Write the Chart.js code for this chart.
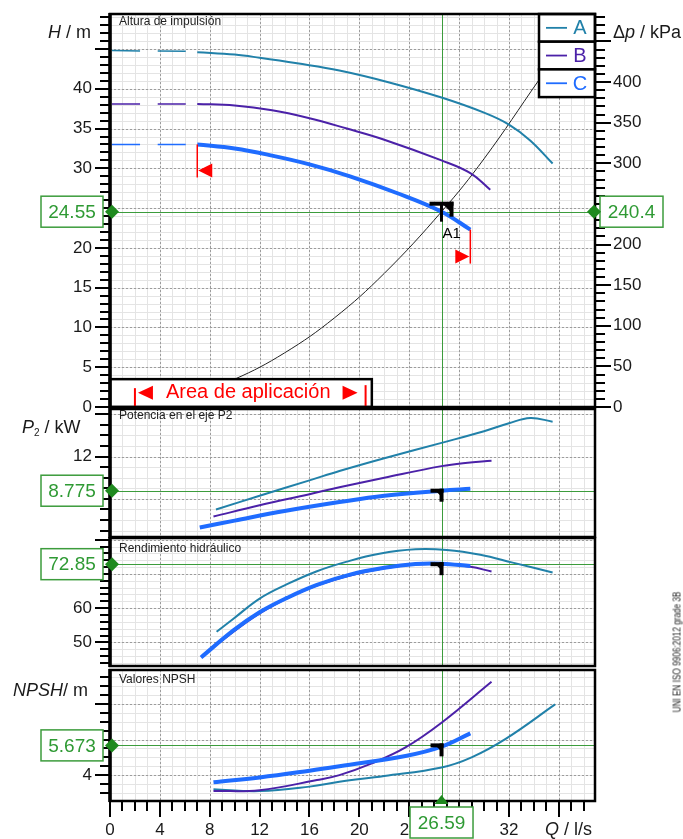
<!DOCTYPE html>
<html>
<head>
<meta charset="utf-8">
<script src="https://cdn.jsdelivr.net/npm/chart.js@4.4.1/dist/chart.umd.min.js"></script>
<style>
  body { margin: 0; background: #fff; }
  #lienzo { position: relative; width: 683px; height: 839px; overflow: hidden; }
  canvas { position: absolute; left: 0; }
  #norma {
    position: absolute; left: 677px; top: 652px; white-space: nowrap;
    font: 10px "Liberation Sans", Arial, sans-serif; color: #222;
    transform: translate(-50%, -50%) rotate(-90deg) scaleX(0.82);
  }
</style>
</head>
<body>
<div id="lienzo">
  <canvas id="graficoH" width="683" height="420" style="top:0px"></canvas>
  <canvas id="graficoP2" width="683" height="148" style="top:400px"></canvas>
  <canvas id="graficoRend" width="683" height="150" style="top:528px"></canvas>
  <canvas id="graficoNpsh" width="683" height="179" style="top:660px"></canvas>
  <div id="norma">UNI EN ISO 9906:2012 grade 3B</div>
</div>
<script>
const FUENTE = "'Liberation Sans', Arial, sans-serif"
const VERDE = "#3c9c3c"
const TEXTO_VERDE = "#2f9a34"
const ROJO = "#ff0000"
const COLOR_A = "#2181a9"
const COLOR_B = "#4b21a8"
const COLOR_C = "#1f6cff"

const Q_MAX = 38.9

// ---- valores (Q en l/s) ----
const curvas = ["A", "B", "C"]

// Altura de impulsion H / m
const qDiscontinua = [0.15, 6.3]
const hDiscA = [44.8, 44.7]
const hDiscB = [38.1, 38.1]
const hDiscC = [33.0, 33.0]
const qH_A = [7, 10, 12, 15, 18.4, 22.4, 26.59, 30, 32, 33.7, 35.5]
const hA = [44.6, 44.3, 43.9, 43.2, 42.3, 40.8, 38.9, 37.0, 35.5, 33.5, 30.6]
const qH_B = [7, 10, 13, 16, 19, 22, 26.59, 28.9, 30.5]
const hB = [38.1, 37.9, 37.3, 36.3, 35.0, 33.6, 31.0, 29.4, 27.3]
const qH_C = [7, 10, 13, 16, 19.25, 23, 26.59, 28.9]
const hC = [33.0, 32.5, 31.6, 30.5, 29.0, 26.9, 24.55, 22.3]
const qSistema = [0, 6, 10, 14, 18, 22, 26.59, 30, 34.4]
const hSistema = [0, 1.25, 3.5, 6.8, 11.2, 16.8, 24.55, 31.2, 41.1]
const areaAplicacion = [2.0, 20.5]

// Potencia en el eje P2 / kW
const qP_A = [8.5, 12, 16, 18.4, 22, 26.59, 30, 32, 33.7, 35.5]
const pA = [7.0, 8.3, 9.75, 10.64, 11.85, 13.3, 14.4, 15.15, 15.65, 15.3]
const qP_B = [8.3, 12, 16, 18.4, 22, 26.59, 28.5, 30.6]
const pB = [6.33, 7.4, 8.45, 9.1, 10.0, 11.1, 11.4, 11.6]
const qP_C = [7.2, 10, 14, 18.4, 22, 26.59, 28.9]
const pC = [5.3, 5.95, 6.85, 7.7, 8.3, 8.78, 8.95]

// Rendimiento hidraulico / %
const qR_A = [8.55, 9.9, 12, 14.2, 16.6, 19, 21.6, 24.5, 27, 29.7, 32.3, 35.5]
const rA = [53.1, 56.9, 62.8, 67.0, 70.8, 73.6, 75.9, 77.2, 77.0, 75.6, 73.3, 70.4]
const qR_B = [8.3, 12, 16, 20, 24, 26.59, 28.9, 30.6]
const rB = [48.6, 58.5, 65.8, 70.2, 72.6, 72.8, 72.1, 70.7]
const qR_C = [7.3, 9.9, 12, 14.2, 16.6, 19.25, 22, 24.5, 26.59, 28.9]
const rC = [45.6, 53.5, 58.8, 63.0, 66.8, 69.8, 71.8, 72.9, 73.0, 72.3]

// Valores NPSH / m
const qN_A = [8.3, 12, 16, 18.4, 22, 26.59, 29, 31.8, 35.7]
const nA = [3.2, 3.1, 3.35, 3.62, 3.95, 4.43, 5.0, 6.07, 7.98]
const qN_B = [8.3, 12, 16.6, 18.4, 21, 23.7, 26.59, 30.6]
const nB = [3.1, 3.15, 3.72, 4.0, 4.66, 5.56, 6.95, 9.26]
const qN_C = [8.3, 12, 16, 18.4, 23.8, 26.59, 28.9]
const nC = [3.59, 3.87, 4.25, 4.5, 5.09, 5.6, 6.35]

// Punto de trabajo
const qTrabajo = 26.59
const hTrabajo = 24.55
const dpTrabajo = 240.4
const p2Trabajo = 8.775
const rendTrabajo = 72.85
const npshTrabajo = 5.673

// Etiquetas de los ejes
const etiquetasQ = [0, 4, 8, 12, 16, 20, 24, 28, 32]
const etiquetasH = [0, 5, 10, 15, 20, 25, 30, 35, 40]
const etiquetasDp = [0, 50, 100, 150, 200, 250, 300, 350, 400]
const etiquetasP2 = [8, 12]
const etiquetasRend = [50, 60, 70]
const etiquetasNpsh = [4, 6]

// ---- utilidades de dibujo ----
function linea(ctx, x1, y1, x2, y2) {
    ctx.beginPath(); ctx.moveTo(x1, y1); ctx.lineTo(x2, y2); ctx.stroke()
}
function vLinea(ctx, x, y1, y2) { x = Math.round(x) + 0.5; linea(ctx, x, y1, x, y2) }
function hLinea(ctx, y, x1, x2) { y = Math.round(y) + 0.5; linea(ctx, x1, y, x2, y) }
function triangulo(ctx, p) {
    ctx.beginPath(); ctx.moveTo(p[0], p[1]); ctx.lineTo(p[2], p[3]); ctx.lineTo(p[4], p[5]); ctx.closePath(); ctx.fill()
}
function valoresEntre(min, max, paso) {
    const r = []
    for (let i = Math.ceil(min / paso - 1e-9); i * paso <= max + 1e-9; i++) r.push(+(i * paso).toFixed(4))
    return r
}
function esMultiplo(v, paso) { return Math.abs(v / paso - Math.round(v / paso)) < 1e-6 }

function serie(q, v, color, ancho, discontinua) {
    return {
        data: q.map((x, i) => ({ x: x, y: v[i] })),
        borderColor: color,
        borderWidth: ancho,
        borderDash: discontinua ? [28, 18] : [],
        borderCapStyle: "butt",
        borderJoinStyle: "round",
        pointRadius: 0,
        fill: false,
        tension: 0.4
    }
}

function cajaValor(ctx, x, yc, w, texto) {
    ctx.fillStyle = "#fff"; ctx.fillRect(x, yc - 15.5, w, 31)
    ctx.strokeStyle = VERDE; ctx.lineWidth = 1.5; ctx.strokeRect(x, yc - 15.5, w, 31)
    ctx.fillStyle = TEXTO_VERDE; ctx.font = "19px " + FUENTE
    ctx.textAlign = "center"; ctx.textBaseline = "middle"
    ctx.fillText(texto, x + w / 2, yc + 1)
}
function diamante(ctx, x, y) {
    ctx.fillStyle = "#1f8a1f"
    ctx.beginPath(); ctx.moveTo(x - 7, y); ctx.lineTo(x, y - 7); ctx.lineTo(x + 7, y); ctx.lineTo(x, y + 7); ctx.closePath(); ctx.fill()
}
function textoPartes(ctx, x, y, partes) {
    ctx.textAlign = "left"; ctx.textBaseline = "middle"; ctx.fillStyle = "#1a1a1a"
    partes.forEach(p => {
        ctx.font = (p.italica ? "italic " : "") + (p.tam || 18) + "px " + FUENTE
        ctx.fillText(p.t, x, y + (p.dy || 0))
        x += ctx.measureText(p.t).width
    })
}

function marcaTrabajo(ctx, x, y, conEtiqueta) {
    ctx.save()
    ctx.strokeStyle = "#000"; ctx.fillStyle = "#000"; ctx.lineCap = "butt"
    if (conEtiqueta) {
        ctx.lineWidth = 4
        linea(ctx, x - 12, y - 8, x + 12, y - 8)
        linea(ctx, x + 10, y - 10, x + 10, y + 5)
        ctx.lineWidth = 3
        linea(ctx, x, y - 8, x, y + 10)
        triangulo(ctx, [x + 1, y - 8, x + 10, y - 8, x + 10, y + 1])
        ctx.font = "15px " + FUENTE; ctx.textAlign = "left"; ctx.textBaseline = "alphabetic"
        ctx.fillText("A1", x + 1, y + 26)
    } else {
        ctx.lineWidth = 4
        linea(ctx, x - 11, y, x + 2, y)
        linea(ctx, x, y - 2, x, y + 11)
        triangulo(ctx, [x - 6, y, x, y, x, y + 6])
    }
    ctx.restore()
}

// ---- capas del panel ----
function fondo(chart, cfg) {
    const ctx = chart.ctx, a = chart.chartArea, sx = chart.scales.x, sy = chart.scales.y
    ctx.save()
    ctx.beginPath(); ctx.rect(a.left, a.top, a.width, a.height); ctx.clip()
    ctx.lineWidth = 1
    ctx.strokeStyle = "#e4e4e4"
    for (let q = 1; q < Q_MAX; q++) vLinea(ctx, sx.getPixelForValue(q), a.top, a.bottom)
    valoresEntre(sy.min, sy.max, cfg.paso).forEach(v => hLinea(ctx, sy.getPixelForValue(v), a.left, a.right))
    ctx.strokeStyle = "#9c9c9c"; ctx.setLineDash([2, 2])
    for (let q = 4; q < Q_MAX; q += 4) vLinea(ctx, sx.getPixelForValue(q), a.top, a.bottom)
    valoresEntre(sy.min, sy.max, cfg.pasoMayor).forEach(v => hLinea(ctx, sy.getPixelForValue(v), a.left, a.right))
    ctx.setLineDash([])
    ctx.strokeStyle = VERDE
    vLinea(ctx, sx.getPixelForValue(qTrabajo), a.top, a.bottom)
    hLinea(ctx, sy.getPixelForValue(cfg.valor), a.left, a.right)
    ctx.restore()
}

function frente(chart, cfg) {
    const ctx = chart.ctx, a = chart.chartArea, sx = chart.scales.x, sy = chart.scales.y
    const px = sx.getPixelForValue(qTrabajo), py = sy.getPixelForValue(cfg.valor)
    ctx.save()
    marcaTrabajo(ctx, px, py, cfg.conEtiqueta)
    if (cfg.debajo) cfg.debajo(chart, ctx)

    // borde del panel
    ctx.strokeStyle = "#000"; ctx.lineWidth = 2.5
    ctx.strokeRect(a.left, a.top, a.width, a.height)
    ctx.lineWidth = 3.5
    linea(ctx, a.left, a.top - 1, a.left, a.bottom + 1)

    // marcas del eje izquierdo
    ctx.lineWidth = 2
    valoresEntre(sy.min, sy.max, cfg.paso).forEach(v => {
        const y = Math.round(sy.getPixelForValue(v))
        const largo = esMultiplo(v, cfg.pasoMayor) ? 15 : 10
        linea(ctx, a.left - largo, y, a.left, y)
    })
    ctx.font = "17px " + FUENTE; ctx.fillStyle = "#1a1a1a"
    ctx.textAlign = "right"; ctx.textBaseline = "middle"
    cfg.etiquetas.forEach(v => ctx.fillText(String(v), a.left - 18, sy.getPixelForValue(v)))

    // titulo del panel
    ctx.font = "12px " + FUENTE; ctx.fillStyle = "#222"
    ctx.textAlign = "left"; ctx.textBaseline = "alphabetic"
    ctx.fillText(cfg.titulo, a.left + 9, a.top + cfg.tituloDy)

    textoPartes(ctx, cfg.etiquetaX, a.top + cfg.etiquetaDy, cfg.etiquetaEje)

    if (cfg.encima) cfg.encima(chart, ctx)

    cajaValor(ctx, 41, py, 62, cfg.texto)
    diamante(ctx, a.left + 2, py)
    ctx.restore()
}

function crearPanel(id, cfg) {
    const escalas = {
        x: { type: "linear", min: 0, max: Q_MAX, display: false },
        y: { type: "linear", min: cfg.yMin, max: cfg.yMax, display: false }
    }
    if (cfg.y2) escalas.y2 = { type: "linear", position: "right", min: cfg.y2[0], max: cfg.y2[1], display: false }
    return new Chart(document.getElementById(id), {
        type: "line",
        data: { datasets: cfg.series },
        options: {
            responsive: false,
            animation: false,
            events: [],
            layout: { padding: cfg.padding },
            plugins: { legend: { display: false }, tooltip: { enabled: false } },
            scales: escalas
        },
        plugins: [{
            id: "panel",
            beforeDatasetsDraw: c => fondo(c, cfg),
            afterDatasetsDraw: c => frente(c, cfg)
        }]
    })
}

// ---- panel H ----
crearPanel("graficoH", {
    yMin: 0, yMax: 49.4, y2: [0, 49.4 * dpTrabajo / hTrabajo],
    paso: 1, pasoMayor: 5,
    padding: { left: 110, right: 88, top: 14, bottom: 13 },
    valor: hTrabajo, texto: String(hTrabajo), conEtiqueta: true,
    etiquetas: etiquetasH,
    titulo: "Altura de impulsión", tituloDy: 11,
    etiquetaX: 48, etiquetaDy: 19,
    etiquetaEje: [{ t: "H", italica: true }, { t: " / m" }],
    series: [
        serie(qH_C, hC, COLOR_C, 4),
        serie(qDiscontinua, hDiscC, COLOR_C, 1.5, true),
        serie(qH_B, hB, COLOR_B, 2),
        serie(qDiscontinua, hDiscB, COLOR_B, 1.5, true),
        serie(qH_A, hA, COLOR_A, 2),
        serie(qDiscontinua, hDiscA, COLOR_A, 1.5, true),
        serie(qSistema, hSistema, "#222", 1)
    ],
    debajo: (chart, ctx) => {
        const a = chart.chartArea, sx = chart.scales.x, sy = chart.scales.y
        // limites rojos sobre la curva C
        ctx.strokeStyle = ROJO; ctx.fillStyle = ROJO; ctx.lineWidth = 1.5
        const x0 = sx.getPixelForValue(qH_C[0]), y0 = sy.getPixelForValue(hC[0])
        linea(ctx, x0, y0, x0, y0 + 33)
        triangulo(ctx, [x0 + 1, y0 + 26, x0 + 15, y0 + 19, x0 + 15, y0 + 33])
        const n = qH_C.length - 1
        const x1 = sx.getPixelForValue(qH_C[n]), y1 = sy.getPixelForValue(hC[n])
        linea(ctx, x1, y1, x1, y1 + 34)
        triangulo(ctx, [x1 - 1, y1 + 27, x1 - 15, y1 + 20, x1 - 15, y1 + 34])

        // caja "Area de aplicacion"
        const xa = sx.getPixelForValue(21), ya = sy.getPixelForValue(3.5)
        ctx.fillStyle = "#fff"; ctx.fillRect(a.left, ya, xa - a.left, a.bottom - ya)
        ctx.strokeStyle = "#000"; ctx.lineWidth = 2.5; ctx.strokeRect(a.left, ya, xa - a.left, a.bottom - ya)
        const xi = sx.getPixelForValue(areaAplicacion[0]), xf = sx.getPixelForValue(areaAplicacion[1])
        const yc = ya + 13.5
        ctx.strokeStyle = ROJO; ctx.fillStyle = ROJO; ctx.lineWidth = 2
        linea(ctx, xi, ya + 9, xi, a.bottom)
        triangulo(ctx, [xi + 3, yc, xi + 18, yc - 7, xi + 18, yc + 7])
        linea(ctx, xf, ya + 6, xf, a.bottom)
        triangulo(ctx, [xf - 8, yc, xf - 23, yc - 7, xf - 23, yc + 7])
        ctx.font = "20px " + FUENTE; ctx.textAlign = "center"; ctx.textBaseline = "middle"
        ctx.fillText("Area de aplicación", (xi + xf) / 2 - 2, yc)

        // leyenda
        const lx = a.right - 56, alto = 27.7
        const colores = [COLOR_A, COLOR_B, COLOR_C]
        curvas.forEach((nombre, i) => {
            const top = a.top + i * alto
            ctx.fillStyle = "#fff"; ctx.fillRect(lx, top, 56, alto)
            ctx.strokeStyle = "#000"; ctx.lineWidth = 2.5; ctx.strokeRect(lx, top, 56, alto)
            ctx.strokeStyle = colores[i]; ctx.lineWidth = 1.8
            linea(ctx, lx + 7, top + alto / 2, lx + 28, top + alto / 2)
            ctx.fillStyle = colores[i]; ctx.font = "20px " + FUENTE
            ctx.textAlign = "center"; ctx.textBaseline = "middle"
            ctx.fillText(nombre, lx + 41, top + alto / 2 + 1)
        })
    },
    encima: (chart, ctx) => {
        const a = chart.chartArea, s2 = chart.scales.y2, sy = chart.scales.y
        ctx.strokeStyle = "#000"; ctx.lineWidth = 2
        valoresEntre(0, s2.max, 10).forEach(v => {
            const y = Math.round(s2.getPixelForValue(v))
            linea(ctx, a.right, y, a.right + (esMultiplo(v, 50) ? 16 : 10), y)
        })
        ctx.font = "17px " + FUENTE; ctx.fillStyle = "#1a1a1a"
        ctx.textAlign = "left"; ctx.textBaseline = "middle"
        etiquetasDp.forEach(v => ctx.fillText(String(v), a.right + 18, s2.getPixelForValue(v)))
        textoPartes(ctx, 613, 33, [{ t: "Δ" }, { t: "p", italica: true }, { t: " / kPa" }])
        const py = sy.getPixelForValue(hTrabajo)
        cajaValor(ctx, 600, py, 63, String(dpTrabajo))
        diamante(ctx, a.right - 1, py)
    }
})

// ---- panel P2 ----
crearPanel("graficoP2", {
    yMin: 4.4, yMax: 16.5, paso: 1, pasoMayor: 4,
    padding: { left: 110, right: 88, top: 9, bottom: 11 },
    valor: p2Trabajo, texto: String(p2Trabajo),
    etiquetas: etiquetasP2,
    titulo: "Potencia en el eje P2", tituloDy: 10,
    etiquetaX: 22, etiquetaDy: 19,
    etiquetaEje: [{ t: "P", italica: true }, { t: "2", tam: 10, dy: 5 }, { t: " / kW" }],
    series: [
        serie(qP_C, pC, COLOR_C, 4),
        serie(qP_B, pB, COLOR_B, 2),
        serie(qP_A, pA, COLOR_A, 2)
    ]
})

// ---- panel rendimiento ----
crearPanel("graficoRend", {
    yMin: 43.1, yMax: 80.5, paso: 2, pasoMayor: 10,
    padding: { left: 110, right: 88, top: 10, bottom: 12 },
    valor: rendTrabajo, texto: String(rendTrabajo),
    etiquetas: etiquetasRend,
    titulo: "Rendimiento hidráulico", tituloDy: 14,
    etiquetaX: 0, etiquetaDy: -100,
    etiquetaEje: [],
    series: [
        serie(qR_C, rC, COLOR_C, 4),
        serie(qR_B, rB, COLOR_B, 2),
        serie(qR_A, rA, COLOR_A, 2)
    ]
})

// ---- panel NPSH ----
crearPanel("graficoNpsh", {
    yMin: 2.54, yMax: 9.92, paso: 0.5, pasoMayor: 2,
    padding: { left: 110, right: 88, top: 10, bottom: 38 },
    valor: npshTrabajo, texto: String(npshTrabajo),
    etiquetas: etiquetasNpsh,
    titulo: "Valores NPSH", tituloDy: 12.5,
    etiquetaX: 13, etiquetaDy: 21,
    etiquetaEje: [{ t: "NPSH", italica: true }, { t: "/ m" }],
    series: [
        serie(qN_C, nC, COLOR_C, 4),
        serie(qN_B, nB, COLOR_B, 2),
        serie(qN_A, nA, COLOR_A, 2)
    ],
    encima: (chart, ctx) => {
        const a = chart.chartArea, sx = chart.scales.x
        ctx.strokeStyle = "#000"; ctx.lineWidth = 2
        for (let q = 0; q <= 38; q++) {
            const x = Math.round(sx.getPixelForValue(q))
            linea(ctx, x, a.bottom, x, a.bottom + (q % 4 === 0 ? 16 : 10))
        }
        ctx.font = "17px " + FUENTE; ctx.fillStyle = "#1a1a1a"
        ctx.textAlign = "center"; ctx.textBaseline = "middle"
        etiquetasQ.forEach(q => ctx.fillText(String(q), sx.getPixelForValue(q), a.bottom + 29))
        textoPartes(ctx, 545, a.bottom + 29, [{ t: "Q", italica: true }, { t: " / l/s" }])
        const px = sx.getPixelForValue(qTrabajo)
        cajaValor(ctx, px - 31.5, a.bottom + 21.5, 63, String(qTrabajo))
        ctx.fillStyle = "#1f8a1f"
        triangulo(ctx, [px, a.bottom - 6, px - 7, a.bottom + 3, px + 7, a.bottom + 3])
    }
})
</script>
</body>
</html>
